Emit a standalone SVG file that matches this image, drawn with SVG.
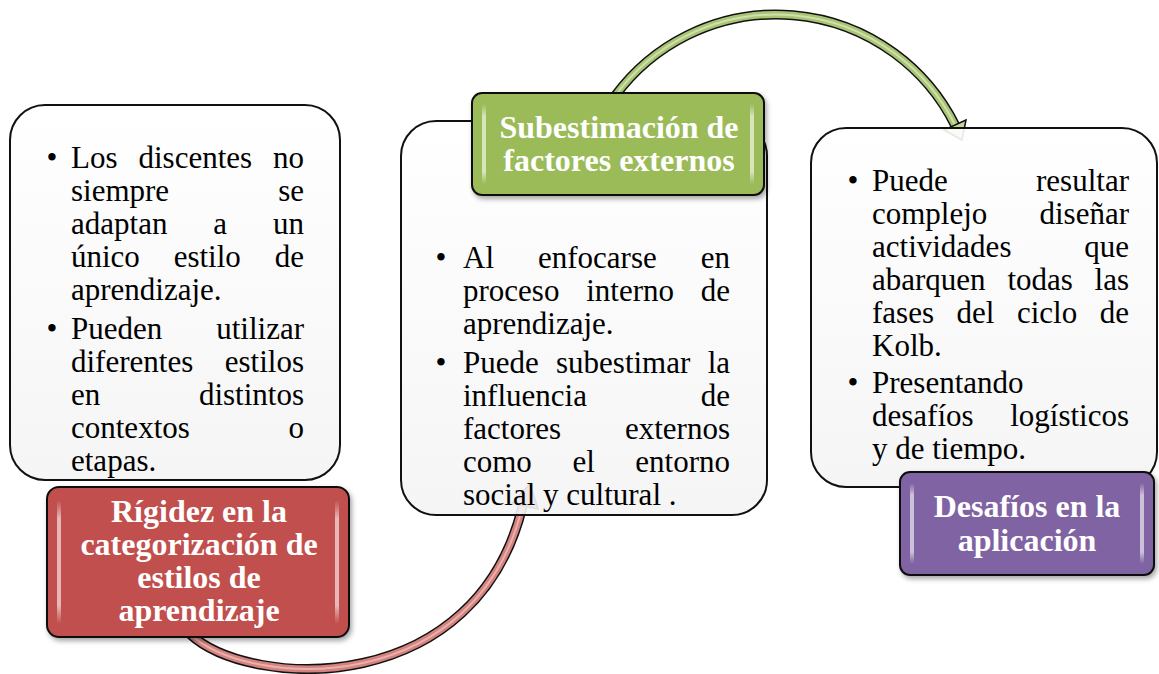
<svg xmlns="http://www.w3.org/2000/svg" width="1159" height="674" viewBox="0 0 1159 674">
<style>
.body{font-family:"Liberation Serif","Times New Roman",serif;font-size:31px;fill:#000}
.e{text-anchor:end}
.title{font-family:"Liberation Serif","Times New Roman",serif;font-size:32px;font-weight:bold;fill:#fff;text-anchor:middle}
.wbox{fill:url(#wgrad);fill-opacity:0.9;stroke:#111;stroke-width:2}
.cbox{stroke:#111;stroke-width:2;filter:url(#sh)}
.hl{fill:url(#hlg)}
</style>
<defs>
<linearGradient id="wgrad" x1="0" y1="0" x2="0" y2="1">
<stop offset="0" stop-color="#ffffff"/><stop offset="1" stop-color="#f4f4f4"/>
</linearGradient>
<linearGradient id="hlg" x1="0" y1="0" x2="0" y2="1">
<stop offset="0" stop-color="#fff" stop-opacity="0"/><stop offset="0.15" stop-color="#fff" stop-opacity="0.6"/><stop offset="0.85" stop-color="#fff" stop-opacity="0.6"/><stop offset="1" stop-color="#fff" stop-opacity="0"/>
</linearGradient>
<filter id="sh" x="-10%" y="-10%" width="120%" height="130%">
<feDropShadow dx="2" dy="3" stdDeviation="2.5" flood-color="#000" flood-opacity="0.35"/>
</filter>
</defs>

<g id="connectors">
<g id="arc-red">
<path d="M190 634 C250 690 480 700 524 500" fill="none" stroke="#111" stroke-width="10"/>
<path d="M190 634 C250 690 480 700 524 500" fill="none" stroke="#d3827e" stroke-width="7"/>
<path d="M190 634 C250 690 480 700 524 500" fill="none" stroke="#e9b1ae" stroke-width="2"/>
<polygon points="512,503 538,509 530,484" fill="#d3827e" stroke="#111" stroke-width="1.5"/>
</g>
<g id="arc-green">
<path d="M615 96 A200 200 0 0 1 955 125" fill="none" stroke="#111" stroke-width="10"/>
<path d="M615 96 A200 200 0 0 1 955 125" fill="none" stroke="#a9c475" stroke-width="7"/>
<path d="M615 96 A200 200 0 0 1 955 125" fill="none" stroke="#cfe0ac" stroke-width="2"/>
<polygon points="966,120 944,130 962,140" fill="#c4d79f" stroke="#111" stroke-width="1.5"/>
</g>
</g>

<g id="box-left">
<rect class="wbox" x="10" y="105" width="330" height="375" rx="35"/>
<text class="body">
<tspan x="46.5" y="168">•</tspan>
<tspan x="71" y="168">Los</tspan><tspan x="138.5" y="168">discentes</tspan><tspan class="e" x="304" y="168" text-anchor="end">no</tspan>
</text>
<text class="body" x="71" y="201">siempre</text><text class="body e" x="304" y="201">se</text>
<text class="body" x="71" y="234">adaptan</text><text class="body" x="213.3" y="234">a</text><text class="body e" x="304" y="234">un</text>
<text class="body" x="71" y="267">único</text><text class="body" x="173.7" y="267">estilo</text><text class="body e" x="304" y="267">de</text>
<text class="body" x="71" y="300">aprendizaje.</text>
<text class="body" x="46.5" y="339">•</text>
<text class="body" x="71" y="339">Pueden</text><text class="body e" x="304" y="339">utilizar</text>
<text class="body" x="71" y="372">diferentes</text><text class="body e" x="304" y="372">estilos</text>
<text class="body" x="71" y="405">en</text><text class="body e" x="304" y="405">distintos</text>
<text class="body" x="71" y="438">contextos</text><text class="body e" x="304" y="438">o</text>
<text class="body" x="71" y="471">etapas.</text>
</g>

<g id="node-red">
<rect class="cbox" x="47" y="487" width="302" height="150" rx="12" fill="#c0504d"/>
<rect class="hl" x="57" y="500" width="4" height="124" rx="2"/>
<rect class="hl" x="335" y="500" width="4" height="124" rx="2"/>
<text class="title" x="199" y="522">Rígidez en la</text>
<text class="title" x="199" y="555">categorización de</text>
<text class="title" x="199" y="588">estilos de</text>
<text class="title" x="199" y="621">aprendizaje</text>
</g>

<g id="box-middle">
<rect class="wbox" x="401" y="121" width="366" height="394" rx="35"/>
<text class="body" x="435.5" y="268">•</text>
<text class="body" x="463" y="268">Al</text><text class="body" x="538" y="268">enfocarse</text><text class="body e" x="730" y="268">en</text>
<text class="body" x="463" y="301">proceso</text><text class="body" x="586.2" y="301">interno</text><text class="body e" x="730" y="301">de</text>
<text class="body" x="463" y="334">aprendizaje.</text>
<text class="body" x="435.5" y="373">•</text>
<text class="body" x="463" y="373">Puede</text><text class="body" x="556" y="373">subestimar</text><text class="body e" x="730" y="373">la</text>
<text class="body" x="463" y="406">influencia</text><text class="body e" x="730" y="406">de</text>
<text class="body" x="463" y="439">factores</text><text class="body e" x="730" y="439">externos</text>
<text class="body" x="463" y="472">como</text><text class="body" x="572.4" y="472">el</text><text class="body e" x="730" y="472">entorno</text>
<text class="body" x="463" y="505">social y cultural .</text>
</g>

<g id="node-green">
<rect class="cbox" x="472" y="93" width="292" height="102" rx="10" fill="#9bbb59"/>
<rect class="hl" x="482" y="104" width="4" height="80" rx="2"/>
<rect class="hl" x="750" y="104" width="4" height="80" rx="2"/>
<text class="title" x="619" y="138">Subestimación de</text>
<text class="title" x="619" y="171">factores externos</text>
</g>

<g id="box-right">
<rect class="wbox" x="811" y="128" width="346" height="359" rx="35"/>
<text class="body" x="847.5" y="191">•</text>
<text class="body" x="872" y="191">Puede</text><text class="body e" x="1129" y="191">resultar</text>
<text class="body" x="872" y="224">complejo</text><text class="body e" x="1129" y="224">diseñar</text>
<text class="body" x="872" y="257">actividades</text><text class="body e" x="1129" y="257">que</text>
<text class="body" x="872" y="290">abarquen</text><text class="body" x="1007.4" y="290">todas</text><text class="body e" x="1129" y="290">las</text>
<text class="body" x="872" y="323">fases</text><text class="body" x="956.5" y="323">del</text><text class="body" x="1016.9" y="323">ciclo</text><text class="body e" x="1129" y="323">de</text>
<text class="body" x="872" y="356">Kolb.</text>
<text class="body" x="847.5" y="393">•</text>
<text class="body" x="872" y="393">Presentando</text>
<text class="body" x="872" y="426">desafíos</text><text class="body e" x="1129" y="426">logísticos</text>
<text class="body" x="872" y="459">y de tiempo.</text>
</g>

<g id="node-purple">
<rect class="cbox" x="900" y="472" width="254" height="103" rx="10" fill="#8064a2"/>
<rect class="hl" x="910" y="483" width="4" height="81" rx="2"/>
<rect class="hl" x="1140" y="483" width="4" height="81" rx="2"/>
<text class="title" x="1027" y="517">Desafíos en la</text>
<text class="title" x="1027" y="551">aplicación</text>
</g>
</svg>
